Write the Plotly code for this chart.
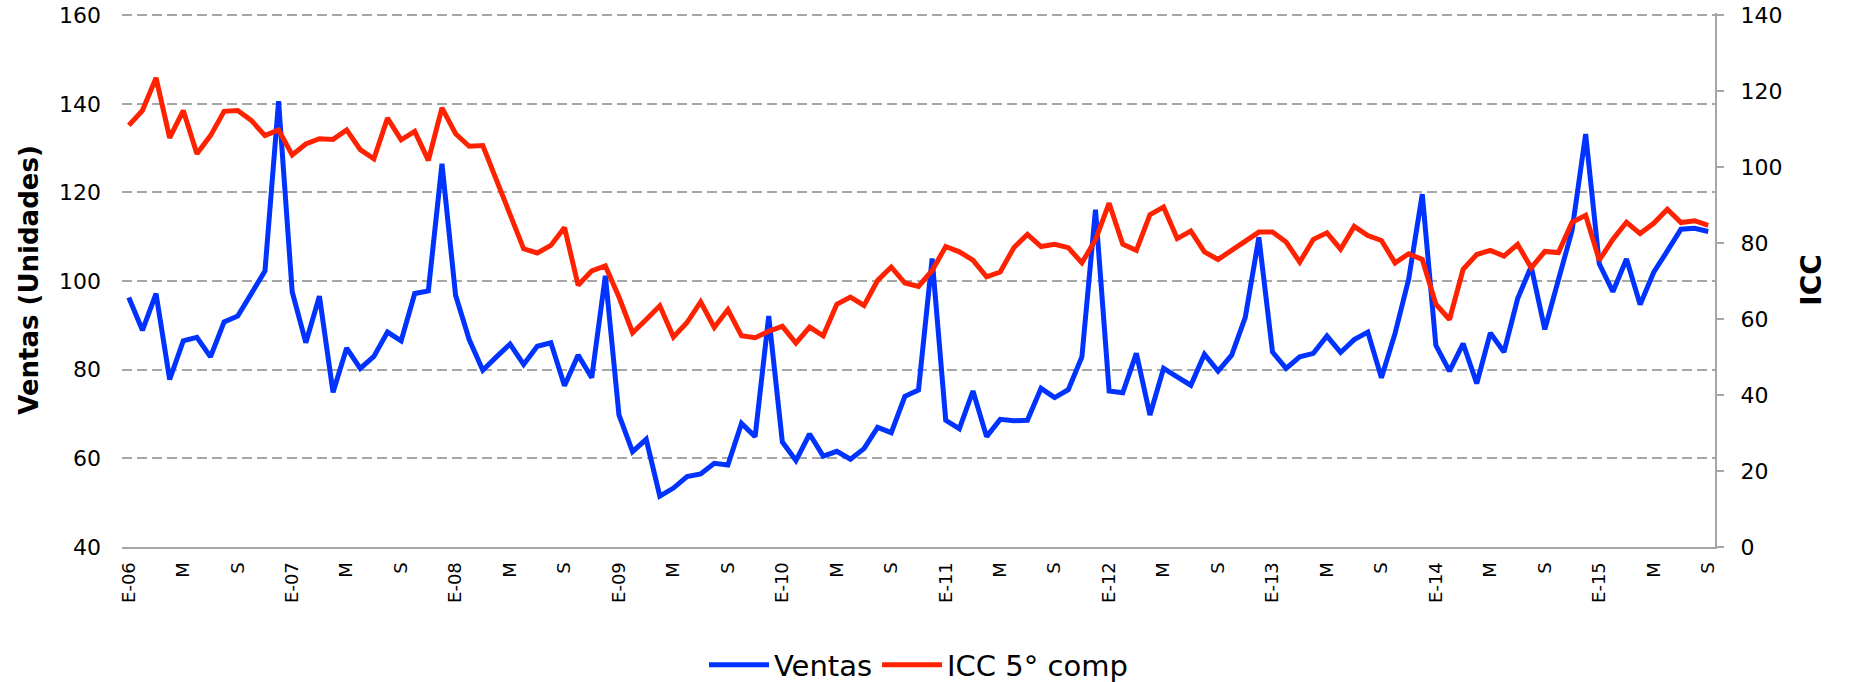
import plotly.graph_objects as go

# Monthly categories: Jan 2006 .. Sep 2015
years = list(range(2006, 2016))
meses = [f"{y}-{m:02d}" for y in years for m in range(1, 13)][:117]

# Tick labels every 4 months
tick_cats = meses[::4]
tick_text = []
for c in tick_cats:
    y, m = c.split("-")
    if m == "01":
        tick_text.append("E-" + y[2:])
    elif m == "05":
        tick_text.append("M")
    else:
        tick_text.append("S")

ventas = [96.3, 88.9, 97.2, 77.8, 86.5, 87.3, 82.9, 90.8, 92.1, 97.3, 102.3, 140.6,
          97.6, 86.1, 96.6, 74.9, 84.9, 80.3, 83.0, 88.5, 86.5, 97.2, 97.8, 126.5,
          96.8, 86.8, 79.9, 82.9, 85.8, 81.2, 85.3, 86.1, 76.4, 83.3, 78.2, 101.2,
          69.8, 61.5, 64.3, 51.5, 53.3, 55.9, 56.5, 58.9, 58.5, 67.9, 64.9, 92.1,
          63.7, 59.5, 65.5, 60.5, 61.6, 59.8, 62.2, 67.0, 65.8, 74.0, 75.4, 105.1,
          68.6, 66.7, 75.2, 64.9, 68.8, 68.5, 68.6, 75.8, 73.7, 75.5, 82.9, 116.1,
          75.2, 74.8, 83.7, 69.8, 80.3, 78.4, 76.5, 83.5, 79.7, 83.3, 91.8, 109.9,
          84.0, 80.3, 82.9, 83.7, 87.6, 83.9, 86.8, 88.5, 78.2, 88.2, 100.4, 119.6,
          85.5, 79.7, 85.9, 76.9, 88.3, 84.0, 96.0, 103.3, 89.1, 100.3, 111.4, 133.2,
          103.9, 97.6, 105.0, 94.7, 102.0, 106.8, 111.7, 111.9, 111.2]

icc = [111.0, 114.9, 123.5, 107.7, 114.9, 103.5, 108.3, 114.7, 114.9, 112.3, 108.3, 109.8,
       103.2, 106.1, 107.5, 107.3, 109.8, 104.6, 102.2, 112.9, 107.2, 109.4, 101.8, 115.6,
       108.8, 105.5, 105.7, 96.7, 87.7, 78.5, 77.4, 79.4, 84.1, 68.9, 72.7, 74.0,
       65.8, 56.4, 59.9, 63.5, 55.3, 59.1, 64.5, 57.8, 62.5, 55.6, 55.1, 56.8,
       58.1, 53.7, 57.9, 55.6, 63.9, 65.8, 63.6, 70.2, 73.7, 69.5, 68.6, 72.8,
       79.1, 77.7, 75.5, 71.1, 72.4, 78.8, 82.3, 79.1, 79.7, 78.8, 74.8, 80.9,
       90.5, 79.7, 78.1, 87.5, 89.5, 81.2, 83.2, 77.7, 75.7, 78.1, 80.7, 82.9,
       82.9, 80.3, 75.0, 81.0, 82.7, 78.4, 84.4, 82.0, 80.7, 74.8, 77.2, 75.7,
       63.9, 59.9, 73.1, 77.0, 78.1, 76.6, 79.7, 73.5, 77.8, 77.5, 85.5, 87.3,
       75.5, 81.0, 85.5, 82.5, 85.2, 88.9, 85.4, 85.9, 84.7]

y_ticks = [40, 60, 80, 100, 120, 140, 160]
y2_ticks = [0, 20, 40, 60, 80, 100, 120, 140]

FONT = "DejaVu Sans"
GREY = "#a6a6a6"

fig = go.Figure()
fig.add_trace(go.Scatter(x=meses, y=ventas, name="Ventas", mode="lines",
                         line=dict(color="#0033ff", width=5), yaxis="y"))
fig.add_trace(go.Scatter(x=meses, y=icc, name="ICC 5° comp", mode="lines",
                         line=dict(color="#ff2200", width=5), yaxis="y2"))

fig.update_layout(
    width=1851, height=682,
    margin=dict(l=122, r=136, t=13, b=135, autoexpand=False),
    paper_bgcolor="white", plot_bgcolor="white",
    font=dict(family=FONT, color="black", size=22),
    showlegend=True,
    legend=dict(orientation="h", x=0.5, xanchor="center", y=-0.221, yanchor="middle",
                font=dict(size=29, family=FONT, color="black"), itemwidth=60,
                tracegroupgap=0),
    xaxis=dict(type="category", categoryorder="array", categoryarray=meses,
               tickmode="array", tickvals=tick_cats, ticktext=tick_text,
               tickangle=-90, tickfont=dict(size=18, family=FONT),
               showgrid=False, showline=True, linecolor=GREY, linewidth=2,
               ticks="", ticklabelstandoff=6, zeroline=False, automargin=False,
               range=[-0.5, len(meses) - 0.5]),
    yaxis=dict(range=[40, 160.5], tickmode="array", tickvals=y_ticks,
               showgrid=True, gridcolor=GREY, gridwidth=2, griddash="10px,5px",
               showline=False, zeroline=False, ticks="", automargin=False,
               ticklabeloverflow="allow",
               ticklabelstandoff=20, tickfont=dict(size=22, family=FONT),
               title=dict(text="<b>Ventas (Unidades)</b>", font=dict(size=26, family=FONT),
                          standoff=12)),
    yaxis2=dict(range=[0, 140.58], tickmode="array", tickvals=y2_ticks,
                overlaying="y", side="right", automargin=False,
                ticklabeloverflow="allow",
                showgrid=False, showline=True, linecolor=GREY, linewidth=2,
                ticks="outside", ticklen=7, tickwidth=2, tickcolor=GREY,
                ticklabelstandoff=12, zeroline=False, tickfont=dict(size=22, family=FONT),
                title=dict(text="<b>ICC</b>", font=dict(size=28, family=FONT), standoff=20)),
)

fig.write_html("out.html", config={"displayModeBar": False},
               post_script="document.body.style.margin='0';")
